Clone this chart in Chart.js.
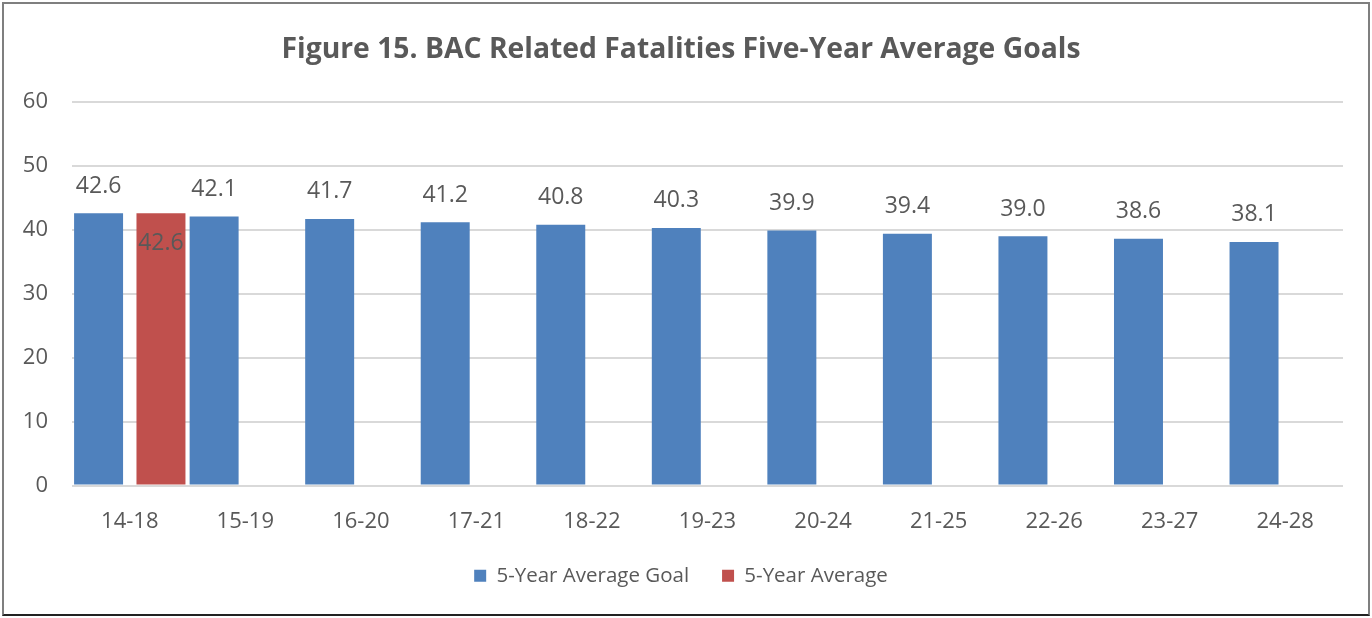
<!DOCTYPE html>
<html>
<head>
<meta charset="utf-8">
<script src="https://cdn.jsdelivr.net/npm/chart.js@4/dist/chart.umd.min.js"></script>
<style>
    html, body { margin: 0; padding: 0; background: #ffffff; }
    #wrap { position: relative; width: 1372px; height: 618px; }
    #frame {
        position: absolute; left: 2px; top: 2px; width: 1364px; height: 610px;
        border: 2px solid #7f7f7f; border-bottom-color: #222; pointer-events: none;
    }
</style>
</head>
<body>
<div id="wrap">
    <canvas id="chart" width="1372" height="618"></canvas>
    <div id="frame"></div>
</div>
<script>
// ==========================
// Data
// ==========================
const categories = ['14-18','15-19','16-20','17-21','18-22','19-23','20-24','21-25','22-26','23-27','24-28'];
const goalValues = [42.6, 42.1, 41.7, 41.2, 40.8, 40.3, 39.9, 39.4, 39.0, 38.6, 38.1];
const averageValues = [42.6, null, null, null, null, null, null, null, null, null, null];
const seriesNames = ['5-Year Average Goal', '5-Year Average'];
const yMin = 0, yMax = 60, yStep = 10;

const FONT = "'Open Sans', 'Noto Sans', sans-serif";
const TEXT_COLOR = '#595959';

// ==========================
// Value labels (blue above bar, red inside top)
// ==========================
const valueLabels = {
    id: 'valueLabels',
    afterDatasetsDraw(chart) {
        const ctx = chart.ctx;
        ctx.save();
        ctx.font = `23px ${FONT}`;
        ctx.fillStyle = TEXT_COLOR;
        ctx.textAlign = 'center';
        ctx.textBaseline = 'middle';
        chart.data.datasets.forEach((ds, i) => {
            const meta = chart.getDatasetMeta(i);
            meta.data.forEach((bar, j) => {
                const v = ds.data[j];
                if (v === null || v === undefined) return;
                const y = i === 0 ? bar.y - 27 : bar.y + 30;
                ctx.fillText(v.toFixed(1), bar.x, y);
            });
        });
        ctx.restore();
    }
};

// ==========================
// Chart
// ==========================
const ctx = document.getElementById('chart').getContext('2d');
new Chart(ctx, {
    type: 'bar',
    data: {
        labels: categories,
        datasets: [
            { label: seriesNames[0], data: goalValues, backgroundColor: '#4f81bd' },
            { label: seriesNames[1], data: averageValues, backgroundColor: '#c0504d' }
        ]
    },
    options: {
        responsive: false,
        animation: false,
        devicePixelRatio: 1,
        categoryPercentage: 1.08,
        barPercentage: 0.785,
        layout: { padding: { left: 0, right: 10, top: 0, bottom: 22 } },
        plugins: {
            title: {
                display: true,
                text: 'Figure 15. BAC Related Fatalities Five-Year Average Goals',
                color: TEXT_COLOR,
                font: { family: FONT, size: 28.3, weight: 'bold' },
                padding: { top: 33, bottom: 35 }
            },
            legend: {
                position: 'bottom',
                labels: {
                    color: TEXT_COLOR,
                    font: { family: FONT, size: 20.5 },
                    boxWidth: 12, boxHeight: 12,
                    padding: 33
                }
            },
            tooltip: { enabled: false }
        },
        scales: {
            x: {
                grid: { display: false },
                border: { display: false },
                ticks: { color: TEXT_COLOR, font: { family: FONT, size: 22 }, padding: 15 },
                afterFit: s => { s.height = 47; }
            },
            y: {
                min: yMin, max: yMax,
                border: { display: false },
                grid: { color: '#d9d9d9', lineWidth: 2, drawTicks: false },
                ticks: { stepSize: yStep, color: TEXT_COLOR, font: { family: FONT, size: 22 }, padding: 24 },
                afterFit: s => { s.width = 72; }
            },
            // empty right-hand axis, only reserves the right margin
            yRight: {
                position: 'right',
                display: true,
                border: { display: false },
                grid: { display: false },
                ticks: { display: false },
                afterFit: s => { s.width = 19; }
            }
        }
    },
    plugins: [valueLabels]
});
</script>
</body>
</html>
